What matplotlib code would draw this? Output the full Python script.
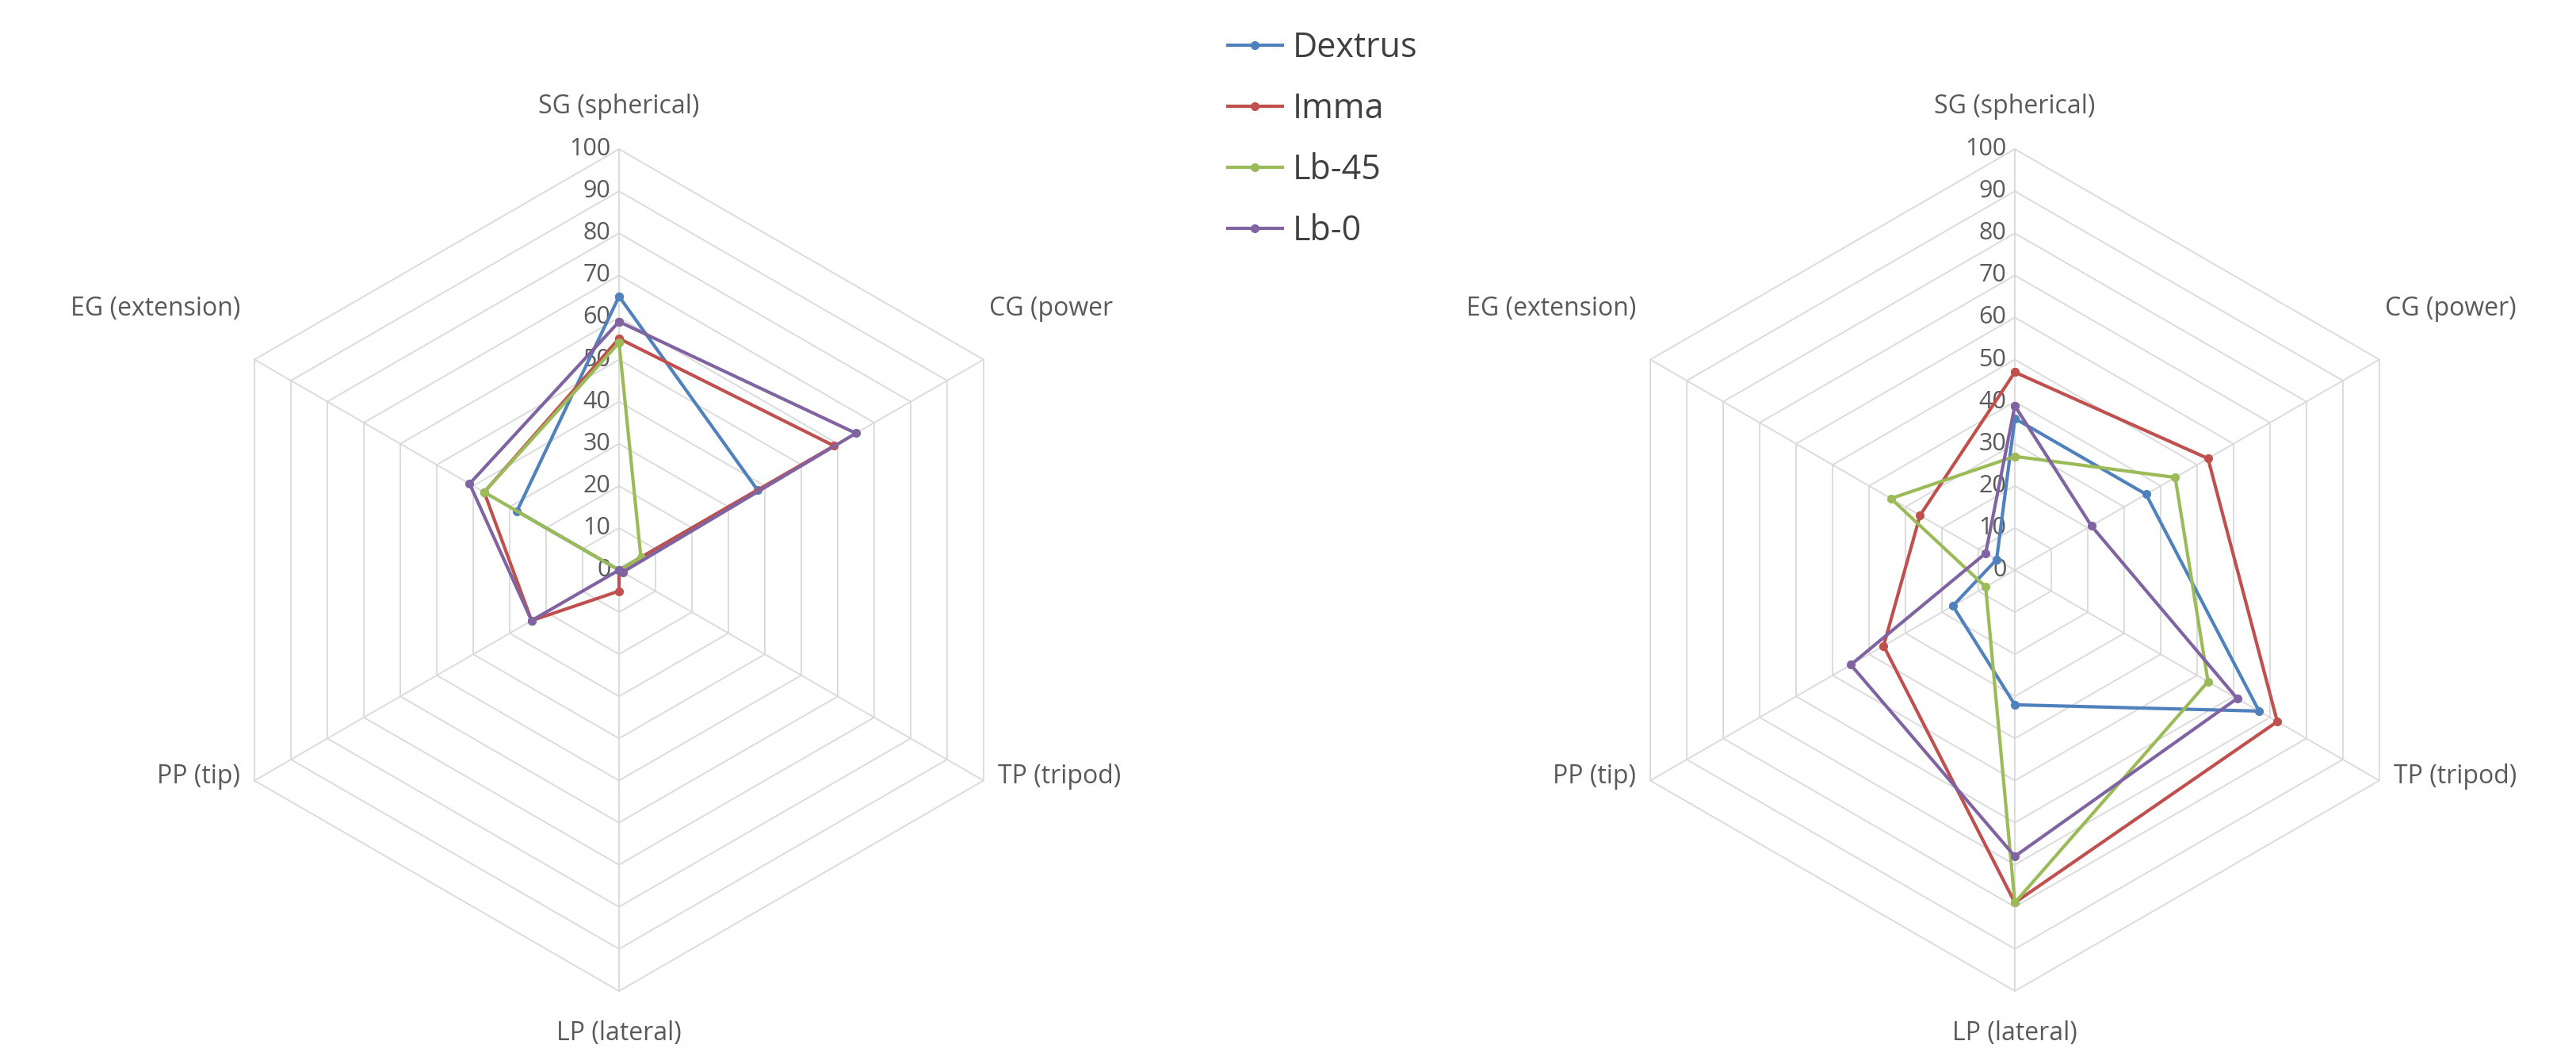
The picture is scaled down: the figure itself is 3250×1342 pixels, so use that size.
import numpy as np
import matplotlib
matplotlib.use("Agg")
import matplotlib.pyplot as plt

plt.rcParams["font.family"] = ["Open Sans", "DejaVu Sans"]

# axis order clockwise from top
left_axes_labels = ["SG (spherical)", "CG (power", "TP (tripod)", "LP (lateral)", "PP (tip)", "EG (extension)"]
right_axes_labels = ["SG (spherical)", "CG (power)", "TP (tripod)", "LP (lateral)", "PP (tip)", "EG (extension)"]

series_names = ["Dextrus", "Imma", "Lb-45", "Lb-0"]
series_colors = ["#4F81BD", "#C0504D", "#9BBB59", "#8064A2"]

# left chart values: SG, CG, TP, LP, PP, EG
left_dextrus = [65, 38, 0, 0, 0, 28]
left_imma = [55, 59, 0, 5, 24, 37]
left_lb45 = [54, 6, 0, 0, 0, 37]
left_lb0 = [59, 65, 1, 0, 24, 41]

# right chart values
right_dextrus = [36, 36, 67, 32, 17, 5]
right_imma = [47, 53, 72, 79, 36, 26]
right_lb45 = [27, 44, 53, 79, 8, 34]
right_lb0 = [39, 21, 61, 68, 45, 8]

ticks = list(range(0, 101, 10))
GRID = "#D9D9D9"
TEXT = "#595959"

W, H = 3250, 1342
PX = 531 / 100.0  # pixels per data unit

# label anchor offsets (data units) for each axis, with alignment
LABEL_POS = [(0, 110, "center"), (88, 62, "left"), (90, -49, "left"),
             (0, -110, "center"), (-90, -49, "right"), (-90, 62, "right")]


def angles(n):
    return np.pi / 2 - np.arange(n) * 2 * np.pi / n


def radar(ax, labels, data):
    n = len(labels)
    th = angles(n)
    thc = np.append(th, th[0])
    for t in ticks[1:]:
        ax.plot(t * np.cos(thc), t * np.sin(thc), color=GRID, lw=1.3, zorder=1)
    for a in th:
        ax.plot([0, 100 * np.cos(a)], [0, 100 * np.sin(a)], color=GRID, lw=1.3, zorder=1)
    for t in ticks:
        ax.text(-2, t, str(t), ha="right", va="center", fontsize=22, color=TEXT, zorder=2)
    for lab, (x, y, ha) in zip(labels, LABEL_POS):
        ax.text(x, y, lab, ha=ha, va="center", fontsize=23, color=TEXT)
    for vals, name, c in zip(data, series_names, series_colors):
        v = np.append(vals, vals[0])
        ax.plot(v * np.cos(thc), v * np.sin(thc), color=c, lw=3, marker="o",
                markersize=7, label=name, zorder=3)
    ax.set_aspect("equal")
    ax.axis("off")


fig = plt.figure(figsize=(W / 100, H / 100), dpi=100)
for cx, labels, data in [
    (781, left_axes_labels, [left_dextrus, left_imma, left_lb45, left_lb0]),
    (2542, right_axes_labels, [right_dextrus, right_imma, right_lb45, right_lb0]),
]:
    half_w = 700
    ax = fig.add_axes([(cx - half_w) / W, 0, 2 * half_w / W, 1])
    cy = 623  # center from bottom in px
    ax.set_xlim(-half_w / PX, half_w / PX)
    ax.set_ylim(-cy / PX, (H - cy) / PX)
    radar(ax, labels, data)
    handles, names = ax.get_legend_handles_labels()

fig.legend(handles, names, loc="upper left", bbox_to_anchor=(1510 / W, 1.0),
           frameon=False, fontsize=31, handlelength=1.6, labelspacing=0.75,
           handletextpad=0.3, labelcolor="#404040")
fig.savefig("out.png", dpi=100)
